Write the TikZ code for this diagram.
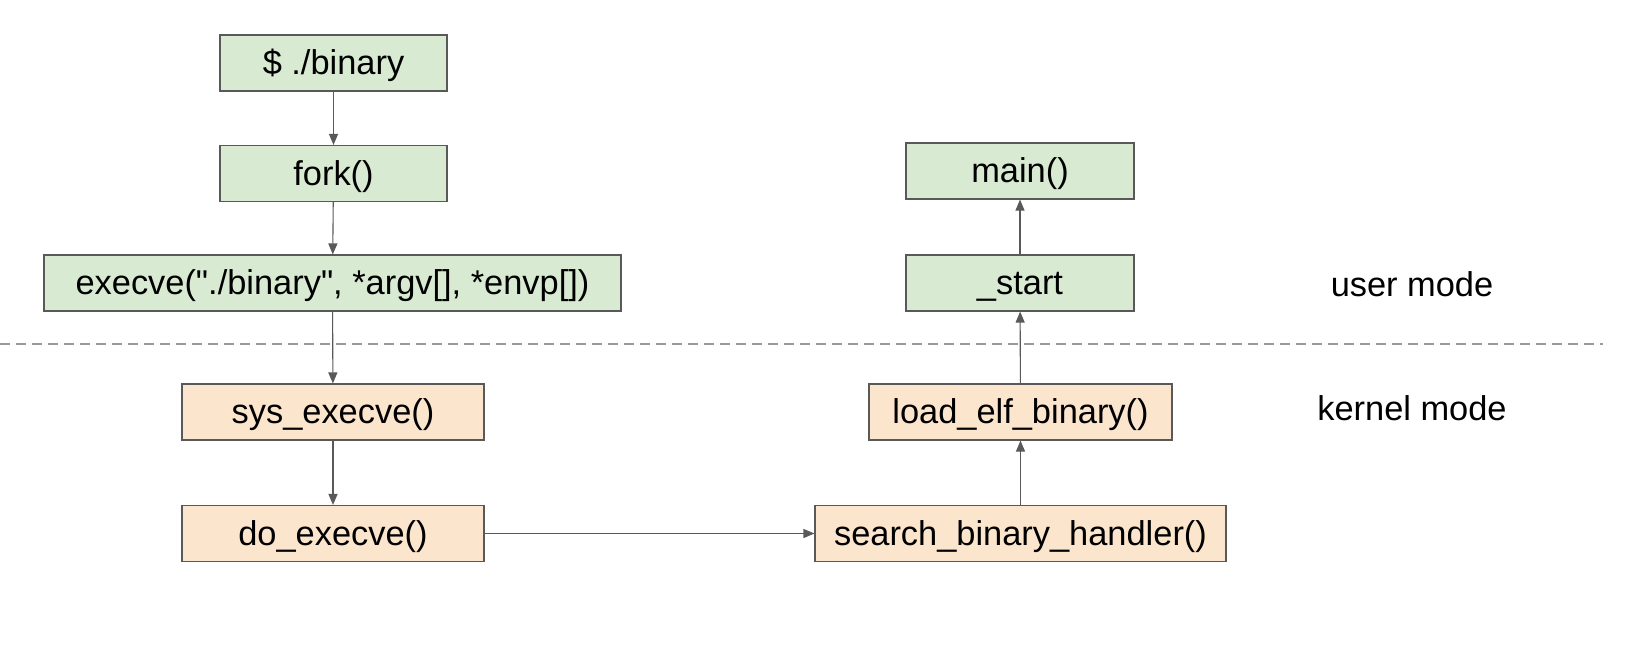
\documentclass[tikz,border=0pt]{standalone}
\usepackage{fontspec}
\setmainfont{Liberation Sans}[Ligatures=TeXOff]
\usetikzlibrary{arrows.meta}
\definecolor{ugreen}{HTML}{D9EAD3}
\definecolor{korange}{HTML}{FCE5CD}
\definecolor{edge}{HTML}{595959}
\definecolor{dashc}{HTML}{999999}
\tikzset{
  box/.style={draw=edge, line width=1.1pt, inner sep=0pt, anchor=center,
    font=\fontsize{34.4}{40}\selectfont, text=black, text height=31pt, text depth=7.2pt},
  ubox/.style={box, fill=ugreen},
  kbox/.style={box, fill=korange},
  conn/.style={draw=edge, line width=1.1pt, -{Triangle[length=11pt,width=9pt]}},
  modelabel/.style={font=\fontsize{34.4}{40}\selectfont, text=black, inner sep=0pt},
  sep/.style={draw=dashc, line width=1.5pt, dash pattern=on 10pt off 6pt}
}
\begin{document}
\begin{tikzpicture}[x=1pt,y=-1pt]
\useasboundingbox (0,0) rectangle (1632,653);
% user mode
\node[ubox, minimum width=227pt, minimum height=56pt] (bin) at (333.5,63) {\$ ./binary};
\node[ubox, minimum width=227pt, minimum height=56pt] (fork) at (333.5,173.5) {fork()};
\node[ubox, minimum width=577pt, minimum height=56pt] (exec) at (332.5,283) {execve("./binary", *argv[], *envp[])};
\node[ubox, minimum width=228pt, minimum height=56pt] (main) at (1020,171) {main()};
\node[ubox, minimum width=228pt, minimum height=56pt] (start) at (1020,283) {\_start};
% kernel mode
\node[kbox, minimum width=302pt, minimum height=56pt] (sys) at (333,412) {sys\_execve()};
\node[kbox, minimum width=302pt, minimum height=56pt] (do) at (333,533.5) {do\_execve()};
\node[kbox, minimum width=411pt, minimum height=56pt] (search) at (1020.5,533.5) {search\_binary\_handler()};
\node[kbox, minimum width=303pt, minimum height=56pt] (load) at (1020.5,412) {load\_elf\_binary()};
% labels
\node[modelabel] (user) at (1412,284) {user mode};
\node[modelabel] (kernel) at (1412,408) {kernel mode};
% separator
\coordinate (sepL) at (0,344);
\coordinate (sepR) at (1603,344);
\draw[sep] (sepL) -- (sepR);
% connectors
\draw[conn] (bin) -- (fork);
\draw[conn] (fork) -- (exec);
\draw[conn] (exec) -- (sys);
\draw[conn] (sys) -- (do);
\draw[conn] (do) -- (search);
\draw[conn] (search) -- (load);
\draw[conn] (load) -- (start);
\draw[conn] (start) -- (main);
\end{tikzpicture}
\end{document}
